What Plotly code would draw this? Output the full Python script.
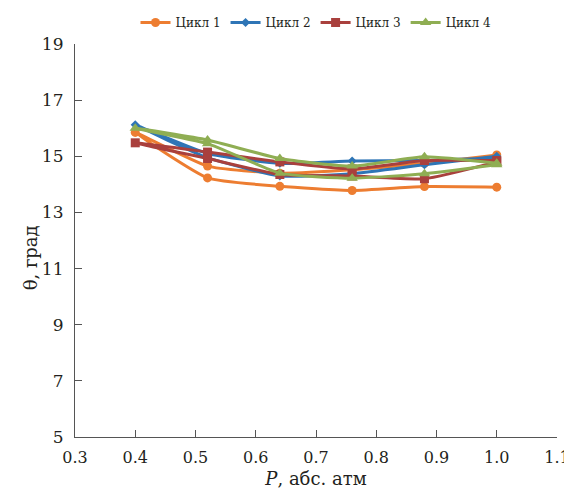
import plotly.graph_objects as go

# Pressure points (one path: 1.0 -> 0.4 -> 1.0)
P = [1.0, 0.88, 0.76, 0.64, 0.52, 0.4, 0.52, 0.64, 0.76, 0.88, 1.0]

cycle1 = [15.05, 14.75, 14.52, 14.40, 14.65, 15.85, 14.23, 13.93, 13.78, 13.92, 13.90]
cycle2 = [14.95, 14.85, 14.83, 14.75, 15.10, 16.12, 14.95, 14.30, 14.38, 14.70, 15.00]
cycle3 = [14.85, 14.85, 14.55, 14.80, 15.15, 15.48, 14.92, 14.35, 14.30, 14.20, 14.80]
cycle4 = [14.75, 14.98, 14.65, 14.92, 15.58, 16.00, 15.45, 14.40, 14.22, 14.38, 14.70]

names = ["Цикл 1", "Цикл 2", "Цикл 3", "Цикл 4"]
series = [cycle1, cycle2, cycle3, cycle4]
colors = ["#ED7D31", "#2E75B6", "#A9403D", "#8FAE53"]
symbols = ["circle", "diamond", "square", "triangle-up"]
sizes = [9, 7, 9, 10]

x_ticks = [0.3, 0.4, 0.5, 0.6, 0.7, 0.8, 0.9, 1.0, 1.1]
y_ticks = [5, 7, 9, 11, 13, 15, 17, 19]

fig = go.Figure()
for name, ys, c, s, sz in zip(names, series, colors, symbols, sizes):
    fig.add_trace(go.Scatter(
        x=P, y=ys, name=name, mode="lines+markers",
        line=dict(color=c, width=3, shape="spline", smoothing=0.5),
        marker=dict(color=c, symbol=s, size=sz),
    ))

font_family = "DejaVu Serif"
fig.update_layout(
    width=564, height=485,
    margin=dict(l=67, r=15, t=36, b=56, autoexpand=False),
    paper_bgcolor="white", plot_bgcolor="white",
    font=dict(family=font_family, color="#231F20"),
    showlegend=True,
    legend=dict(orientation="h", x=0.5, xanchor="center", y=1.0, yanchor="top",
                yref="container", font=dict(size=12, family=font_family),
                itemwidth=30, tracegroupgap=0),
    xaxis=dict(range=[0.3, 1.1], tickvals=x_ticks, ticktext=[f"{v:.1f}" for v in x_ticks],
               showgrid=False, zeroline=False, showline=True, linecolor="#555",
               linewidth=1.2, ticks="inside", ticklen=7, tickcolor="#555",
               tickfont=dict(size=16, family=font_family), ticklabelstandoff=6,
               title=dict(text="<i>P</i>, абс. атм", font=dict(size=18, family=font_family), standoff=6)),
    yaxis=dict(range=[5, 19], tickvals=y_ticks, showgrid=False, zeroline=False,
               showline=True, linecolor="#555", linewidth=1.2, ticks="inside",
               ticklen=7, tickcolor="#555", tickfont=dict(size=17, family=font_family),
               ticklabelstandoff=7),
    annotations=[dict(text="θ, град", textangle=-90, xref="paper", yref="paper",
                      x=-0.093, y=0.455, xanchor="center", yanchor="middle",
                      showarrow=False, font=dict(size=18, family=font_family))],
)

fig.write_html("out.html")
